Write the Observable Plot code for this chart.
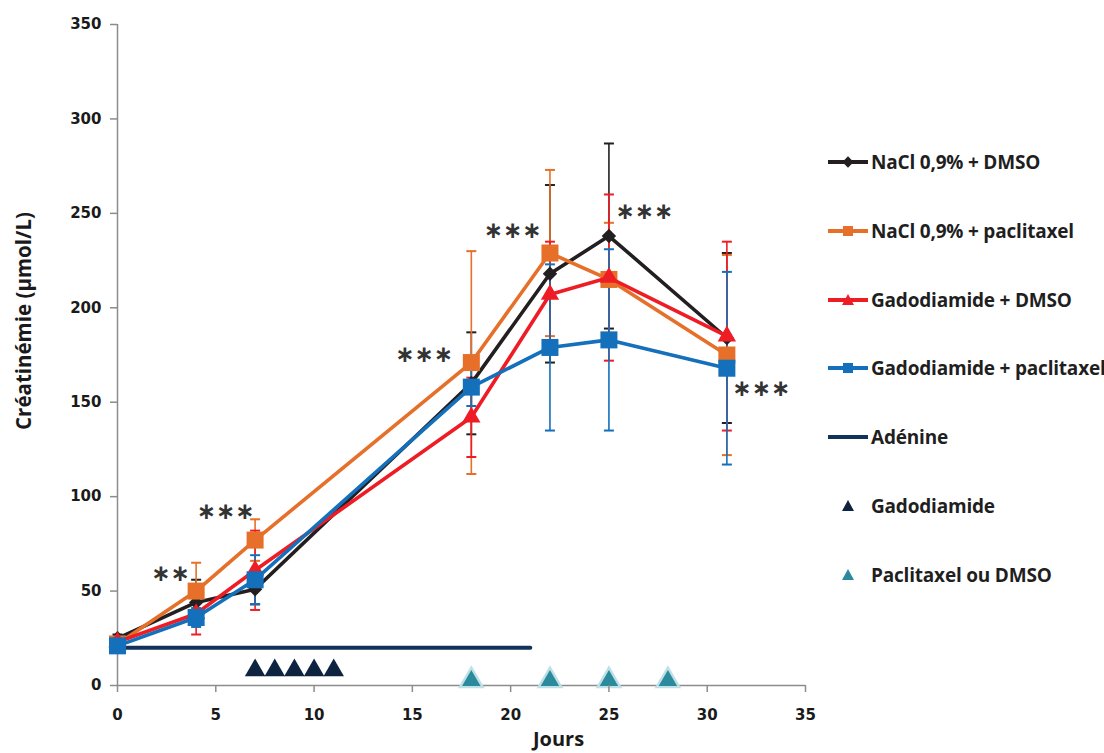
<!DOCTYPE html>
<html>
<head>
<meta charset="utf-8">
<script src="https://cdn.jsdelivr.net/npm/d3@7"></script>
<script src="https://cdn.jsdelivr.net/npm/@observablehq/plot@0.6"></script>
<style>
  body { margin: 0; background: #fff; }
  #wrap { position: relative; width: 1104px; height: 753px; }
  #chart svg { display: block; }
  #chart g[aria-label="y-axis tick"], #chart g[aria-label="x-axis tick"] { stroke: #8c8c8c; stroke-width: 1.5px; }
  .item { position: absolute; left: 828px; height: 20px; display: flex; align-items: center; }
  .sample { position: relative; width: 40px; height: 20px; margin-right: 3px; }
  .sample .ln { position: absolute; left: 0; top: 8px; width: 40px; height: 4px; }
  .sample .mk { position: absolute; }
  .txt { font-family: "Open Sans", sans-serif; font-weight: 700; font-size: 19px; color: #1f1f1f; letter-spacing: -0.2px; white-space: nowrap; }
</style>
</head>
<body>
<div id="wrap">
  <div id="chart"></div>
  <div id="legend"></div>
</div>
<script>
// ---- data ----
const days = [0, 4, 7, 18, 22, 25, 31];
const seriesNames = ["NaCl 0,9% + DMSO", "NaCl 0,9% + paclitaxel", "Gadodiamide + DMSO", "Gadodiamide + paclitaxel"];
const naclDmso      = [25, 44, 51, 160, 218, 238, 184];
const naclDmsoErr   = [2, 12, 8, 27, 47, 49, 45];
const naclPacli     = [22, 50, 77, 171, 229, 215, 175];
const naclPacliErr  = [1, 15, 11, 59, 44, 30, 53];
const gadoDmso      = [23, 38, 61, 142, 207, 216, 185];
const gadoDmsoErr   = [1, 11, 21, 21, 28, 44, 50];
const gadoPacli     = [21, 36, 56, 158, 179, 183, 168];
const gadoPacliErr  = [1, 5, 13, 10, 44, 48, 51];

const adenineName = "Adénine";
const adenineDays = [0, 21];
const adenineLevel = 20;
const gadoInjName = "Gadodiamide";
const gadoInjDays = [7, 8, 9, 10, 11];
const gadoInjLevel = 8;
const pacliInjName = "Paclitaxel ou DMSO";
const pacliInjDays = [18, 22, 25, 28];
const pacliInjLevel = 2.6;

const starLabels = ["∗∗", "∗∗∗", "∗∗∗", "∗∗∗", "∗∗∗", "∗∗∗"];
const starDays   = [2.7, 5.5, 15.6, 20.1, 26.8, 32.75];
const starValues = [59, 92, 175, 241, 251, 157];

const xTicks = [0, 5, 10, 15, 20, 25, 30, 35];
const yTicks = [0, 50, 100, 150, 200, 250, 300, 350];
const xLabel = "Jours";
const yLabel = "Créatinémie (µmol/L)";

// ---- styles ----
const seriesColors = ["#231f20", "#e6702a", "#ee1d25", "#1470bb"];
const seriesSymbols = ["diamond2", "square", "triangle", "square"];
const seriesR = [6.5, 9.6, 6.8, 9.6];
const adenineColor = "#13325b";
const gadoInjColor = "#0e2340";
const pacliInjColor = "#2b8a9b";

const seriesValues = [naclDmso, naclPacli, gadoDmso, gadoPacli];
const seriesErrs = [naclDmsoErr, naclPacliErr, gadoDmsoErr, gadoPacliErr];

const capSymbol = {
  draw(ctx, size) {
    const w = Math.sqrt(size / Math.PI);
    ctx.moveTo(-w, 0);
    ctx.lineTo(w, 0);
  }
};

const marks = [];
marks.push(Plot.ruleX([0], {stroke: "#8c8c8c", strokeWidth: 1.5}));
marks.push(Plot.ruleY([0], {stroke: "#8c8c8c", strokeWidth: 1.5}));

// adenine line
marks.push(Plot.line(adenineDays.map(d => ({day: d, v: adenineLevel})), {x: "day", y: "v", stroke: adenineColor, strokeWidth: 4}));

seriesNames.forEach((name, i) => {
  const rows = days.map((d, j) => ({day: d, v: seriesValues[i][j], e: seriesErrs[i][j], s: name}));
  const c = seriesColors[i];
  marks.push(Plot.ruleX(rows, {x: "day", y1: d => d.v - d.e, y2: d => d.v + d.e, stroke: c, strokeWidth: 1.6}));
  marks.push(Plot.dot(rows, {x: "day", y: d => d.v + d.e, symbol: capSymbol, r: 5, fill: "none", stroke: c, strokeWidth: 2}));
  marks.push(Plot.dot(rows, {x: "day", y: d => d.v - d.e, symbol: capSymbol, r: 5, fill: "none", stroke: c, strokeWidth: 2}));
});
seriesNames.forEach((name, i) => {
  const rows = days.map((d, j) => ({day: d, v: seriesValues[i][j], s: name}));
  const c = seriesColors[i];
  marks.push(Plot.line(rows, {x: "day", y: "v", stroke: c, strokeWidth: 3.6}));
  marks.push(Plot.dot(rows, {x: "day", y: "v", symbol: seriesSymbols[i], r: seriesR[i], fill: c, stroke: "none"}));
});

// injection triangles
marks.push(Plot.dot(gadoInjDays.map(d => ({day: d, v: gadoInjLevel})), {x: "day", y: "v", symbol: "triangle", r: 7.6, fill: gadoInjColor, stroke: "none"}));
marks.push(Plot.dot(pacliInjDays.map(d => ({day: d, v: pacliInjLevel})), {x: "day", y: "v", symbol: "triangle", r: 8.4, fill: pacliInjColor, stroke: "#bfe0e7", strokeWidth: 2.4}));

// significance stars
marks.push(Plot.text(starLabels.map((t, i) => ({t, day: starDays[i], v: starValues[i]})), {
  x: "day", y: "v", text: "t", fontSize: 23, fontWeight: "bold", fill: "#333", fontFamily: "DejaVu Sans", letterSpacing: 2
}));

// axes
marks.push(Plot.axisY({ticks: yTicks, tickSize: 7, tickPadding: 9, color: "#1a1a1a", fontSize: 15, fontWeight: "bold", fontFamily: "DejaVu Sans", label: null}));
marks.push(Plot.axisX({ticks: xTicks, tickSize: 7, tickPadding: 17, color: "#1a1a1a", fontSize: 15, fontWeight: "bold", fontFamily: "DejaVu Sans", label: null}));

// axis titles
marks.push(Plot.text([yLabel], {frameAnchor: "left", rotate: -90, dx: -93, dy: -34, textAnchor: "middle", lineAnchor: "middle",
  fontSize: 20.5, fontWeight: "bold", fontFamily: "Open Sans", fill: "#1a1a1a"}));
marks.push(Plot.text([xLabel], {frameAnchor: "bottom", dx: 97, dy: 54, textAnchor: "middle", lineAnchor: "middle",
  fontSize: 20, fontWeight: "bold", fontFamily: "Open Sans", fill: "#1a1a1a"}));

const chart = Plot.plot({
  width: 1104,
  height: 753,
  marginLeft: 117,
  marginRight: 299,
  marginTop: 24,
  marginBottom: 68,
  x: {domain: [0, 35]},
  y: {domain: [0, 350]},
  style: {background: "#fff", overflow: "visible"},
  marks
});
document.getElementById("chart").appendChild(chart);

// ---- legend ----
const legend = document.getElementById("legend");
const legendEntries = [
  {label: seriesNames[0], color: seriesColors[0], line: true, mk: "diamond"},
  {label: seriesNames[1], color: seriesColors[1], line: true, mk: "square"},
  {label: seriesNames[2], color: seriesColors[2], line: true, mk: "triangle"},
  {label: seriesNames[3], color: seriesColors[3], line: true, mk: "square"},
  {label: adenineName, color: adenineColor, line: true, mk: null},
  {label: gadoInjName, color: gadoInjColor, line: false, mk: "triangle"},
  {label: pacliInjName, color: pacliInjColor, line: false, mk: "triangle"}
];
legendEntries.forEach((e, i) => {
  const item = document.createElement("div");
  item.className = "item";
  item.style.top = (152 + i * 68.8) + "px";
  const s = document.createElement("div");
  s.className = "sample";
  if (e.line) {
    const ln = document.createElement("div");
    ln.className = "ln";
    ln.style.background = e.color;
    s.appendChild(ln);
  }
  if (e.mk) {
    const m = document.createElement("div");
    m.className = "mk";
    if (e.mk === "square") {
      Object.assign(m.style, {left: "15px", top: "5px", width: "10px", height: "10px", background: e.color});
    } else if (e.mk === "diamond") {
      Object.assign(m.style, {left: "16px", top: "6px", width: "8px", height: "8px", background: e.color, transform: "rotate(45deg)"});
    } else {
      Object.assign(m.style, {left: "14px", top: "4px", width: "0", height: "0", borderLeft: "6px solid transparent", borderRight: "6px solid transparent", borderBottom: "11px solid " + e.color});
    }
    s.appendChild(m);
  }
  item.appendChild(s);
  const t = document.createElement("span");
  t.className = "txt";
  t.textContent = e.label;
  item.appendChild(t);
  legend.appendChild(item);
});
</script>
</body>
</html>
